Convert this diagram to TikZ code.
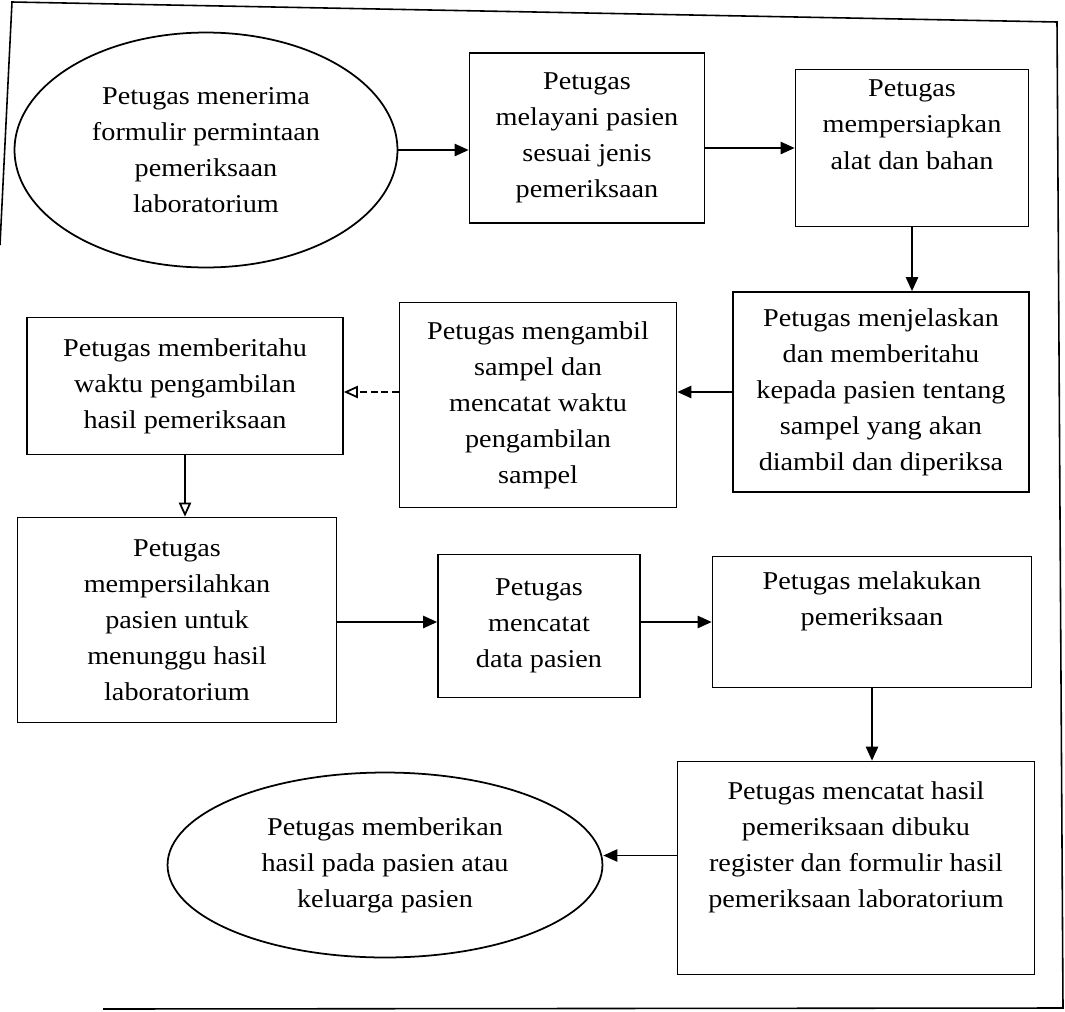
\documentclass[tikz,border=0pt]{standalone}
\usepackage{fontspec}
\setmainfont{Liberation Serif}[FakeStretch=1.1]
\usetikzlibrary{arrows.meta,shapes.geometric}

\tikzset{
  box/.style={draw,line width=1pt,rectangle,align=center,inner sep=0pt,
    font=\fontsize{14.6}{20.5}\selectfont},
  oval/.style={draw,line width=1pt,ellipse,align=center,inner sep=0pt,
    font=\fontsize{14.6}{20.5}\selectfont},
  arr/.style={line width=1pt,-{Triangle[length=8pt,width=7pt]}},
  arropen/.style={line width=1pt,-{Triangle[open,length=8pt,width=7pt]}},
}

\begin{document}
\begin{tikzpicture}[x=0.02cm,y=-0.02cm]
  \useasboundingbox (0,0) rectangle (1065,1011);
  % outer frame of the scan
  \draw[line width=0.9pt] (0,245) -- (12,2) -- (1057,22) -- (1063,1008) -- (103,1009);

  % row 1
  \node[oval,minimum width=7.66cm,minimum height=4.7cm] (terima) at (206,150)
    {Petugas menerima\\formulir permintaan\\pemeriksaan\\laboratorium};
  \node[box,minimum width=4.7cm,minimum height=3.4cm] (layani) at (587,138)
    {Petugas\\melayani pasien\\sesuai jenis\\pemeriksaan};
  \node[box,minimum width=4.66cm,minimum height=3.14cm] (siapkan) at (912,148)
    {Petugas\\mempersiapkan\\alat dan bahan\\\strut};

  % row 2
  \node[box,minimum width=5.92cm,minimum height=4cm] (jelaskan) at (881,392)
    {Petugas menjelaskan\\dan memberitahu\\kepada pasien tentang\\sampel yang akan\\diambil dan diperiksa};
  \node[box,minimum width=5.54cm,minimum height=4.1cm] (ambil) at (538,405)
    {Petugas mengambil\\sampel dan\\mencatat waktu\\pengambilan\\sampel};
  \node[box,minimum width=6.32cm,minimum height=2.74cm] (beritahu) at (185,386)
    {Petugas memberitahu\\waktu pengambilan\\hasil pemeriksaan};

  % row 3
  \node[box,minimum width=6.38cm,minimum height=4.1cm] (silahkan) at (177,620)
    {Petugas\\mempersilahkan\\pasien untuk\\menunggu hasil\\laboratorium};
  \node[box,minimum width=4.04cm,minimum height=2.86cm] (catat) at (539,626)
    {Petugas\\mencatat\\data pasien};
  \node[box,minimum width=6.38cm,minimum height=2.62cm] (periksa) at (872,622)
    {Petugas melakukan\\pemeriksaan\\\strut};

  % row 4
  \node[box,minimum width=7.14cm,minimum height=4.26cm] (hasil) at (856,868)
    {Petugas mencatat hasil\\pemeriksaan dibuku\\register dan formulir hasil\\pemeriksaan laboratorium\\\strut};
  \node[oval,minimum width=8.7cm,minimum height=3.7cm] (beri) at (385,865)
    {Petugas memberikan\\hasil pada pasien atau\\keluarga pasien};

  % arrows
  \draw[arr] (terima) -- (terima -| layani.west);
  \draw[arr] (layani.east |- siapkan) -- (siapkan.west);
  \draw[arr] (siapkan) -- (siapkan |- jelaskan.north);
  \draw[arr] (jelaskan) -- (jelaskan -| ambil.east);
  \draw[arropen,dash pattern=on 4pt off 2pt] (jelaskan -| ambil.west) -- (jelaskan -| beritahu.east);
  \draw[arropen] (beritahu) -- (beritahu |- silahkan.north);
  \draw[arr] (silahkan.east |- periksa) -- (periksa -| catat.west);
  \draw[arr] (catat.east |- periksa) -- (periksa.west);
  \draw[arr] (periksa) -- (periksa |- hasil.north);
  \draw[arr] ([yshift=0.19cm]hasil.west |- beri) -- ([yshift=0.19cm]beri.east);
\end{tikzpicture}
\end{document}
